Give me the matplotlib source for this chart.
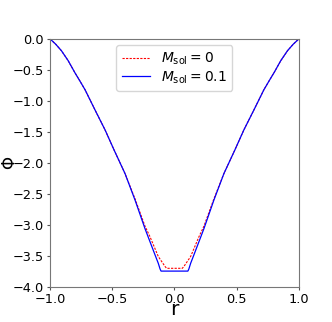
import matplotlib
matplotlib.use("Agg")
import matplotlib.pyplot as plt

# M_sol = 0 (red dashed)
r_red = [-1.0, -0.955, -0.909, -0.855, -0.802, -0.76, -0.719, -0.639, -0.558, -0.486, -0.398, -0.317,
         -0.237, -0.197, -0.13, -0.076, -0.063,
         0.063, 0.076, 0.13, 0.197, 0.237,
         0.317, 0.398, 0.486, 0.558, 0.639, 0.719, 0.76, 0.802, 0.855, 0.909, 0.955, 1.0]
phi_red = [0.0, -0.085, -0.19, -0.35, -0.54, -0.68, -0.82, -1.145, -1.468, -1.79, -2.17, -2.58,
           -3.02, -3.19, -3.51, -3.67, -3.70,
           -3.70, -3.67, -3.51, -3.19, -3.02,
           -2.58, -2.17, -1.79, -1.468, -1.145, -0.82, -0.68, -0.54, -0.35, -0.19, -0.085, 0.0]

# M_sol = 0.1 (blue solid)
r_blue = [-1.0, -0.955, -0.909, -0.855, -0.802, -0.76, -0.719, -0.639, -0.558, -0.486, -0.398, -0.317,
          -0.237, -0.157, -0.13, -0.116, -0.108,
          0.108, 0.116, 0.13, 0.157, 0.237,
          0.317, 0.398, 0.486, 0.558, 0.639, 0.719, 0.76, 0.802, 0.855, 0.909, 0.955, 1.0]
phi_blue = [0.0, -0.085, -0.19, -0.35, -0.54, -0.68, -0.82, -1.145, -1.468, -1.79, -2.17, -2.60,
            -3.06, -3.48, -3.62, -3.71, -3.745,
            -3.745, -3.71, -3.62, -3.48, -3.06,
            -2.60, -2.17, -1.79, -1.468, -1.145, -0.82, -0.68, -0.54, -0.35, -0.19, -0.085, 0.0]

labels = [r"$M_{\rm sol}=0$", r"$M_{\rm sol}=0.1$"]
xticks = [-1.0, -0.5, 0.0, 0.5, 1.0]
yticks = [0.0, -0.5, -1.0, -1.5, -2.0, -2.5, -3.0, -3.5, -4.0]

fig = plt.figure(figsize=(3.32, 3.22), dpi=100)
ax = fig.add_axes([0.151, 0.109, 0.749, 0.770])
ax.plot(r_red, phi_red, color="red", linestyle="--", linewidth=0.8, dashes=(2, 1.2), label=labels[0])
ax.plot(r_blue, phi_blue, color="blue", linewidth=0.9, label=labels[1])
ax.set_xlim(-1, 1)
ax.set_ylim(-4, 0)
ax.set_xticks(xticks)
ax.set_yticks(yticks)
ax.tick_params(labelsize=9.3, length=2.5, pad=2.0, color="#555555")
for s in ax.spines.values():
    s.set_color("#777777")
ax.set_xlabel("r", fontsize=14.5, va="baseline")
ax.set_ylabel("Φ", fontsize=12, rotation=90)
ax.xaxis.set_label_coords(0.5, -0.115)
ax.yaxis.set_label_coords(-0.128, 0.5)
leg = ax.legend(loc="upper center", fontsize=10, borderaxespad=0.45, labelspacing=0.15,
                handlelength=2.0)
fig.savefig("out.png", dpi=100)
